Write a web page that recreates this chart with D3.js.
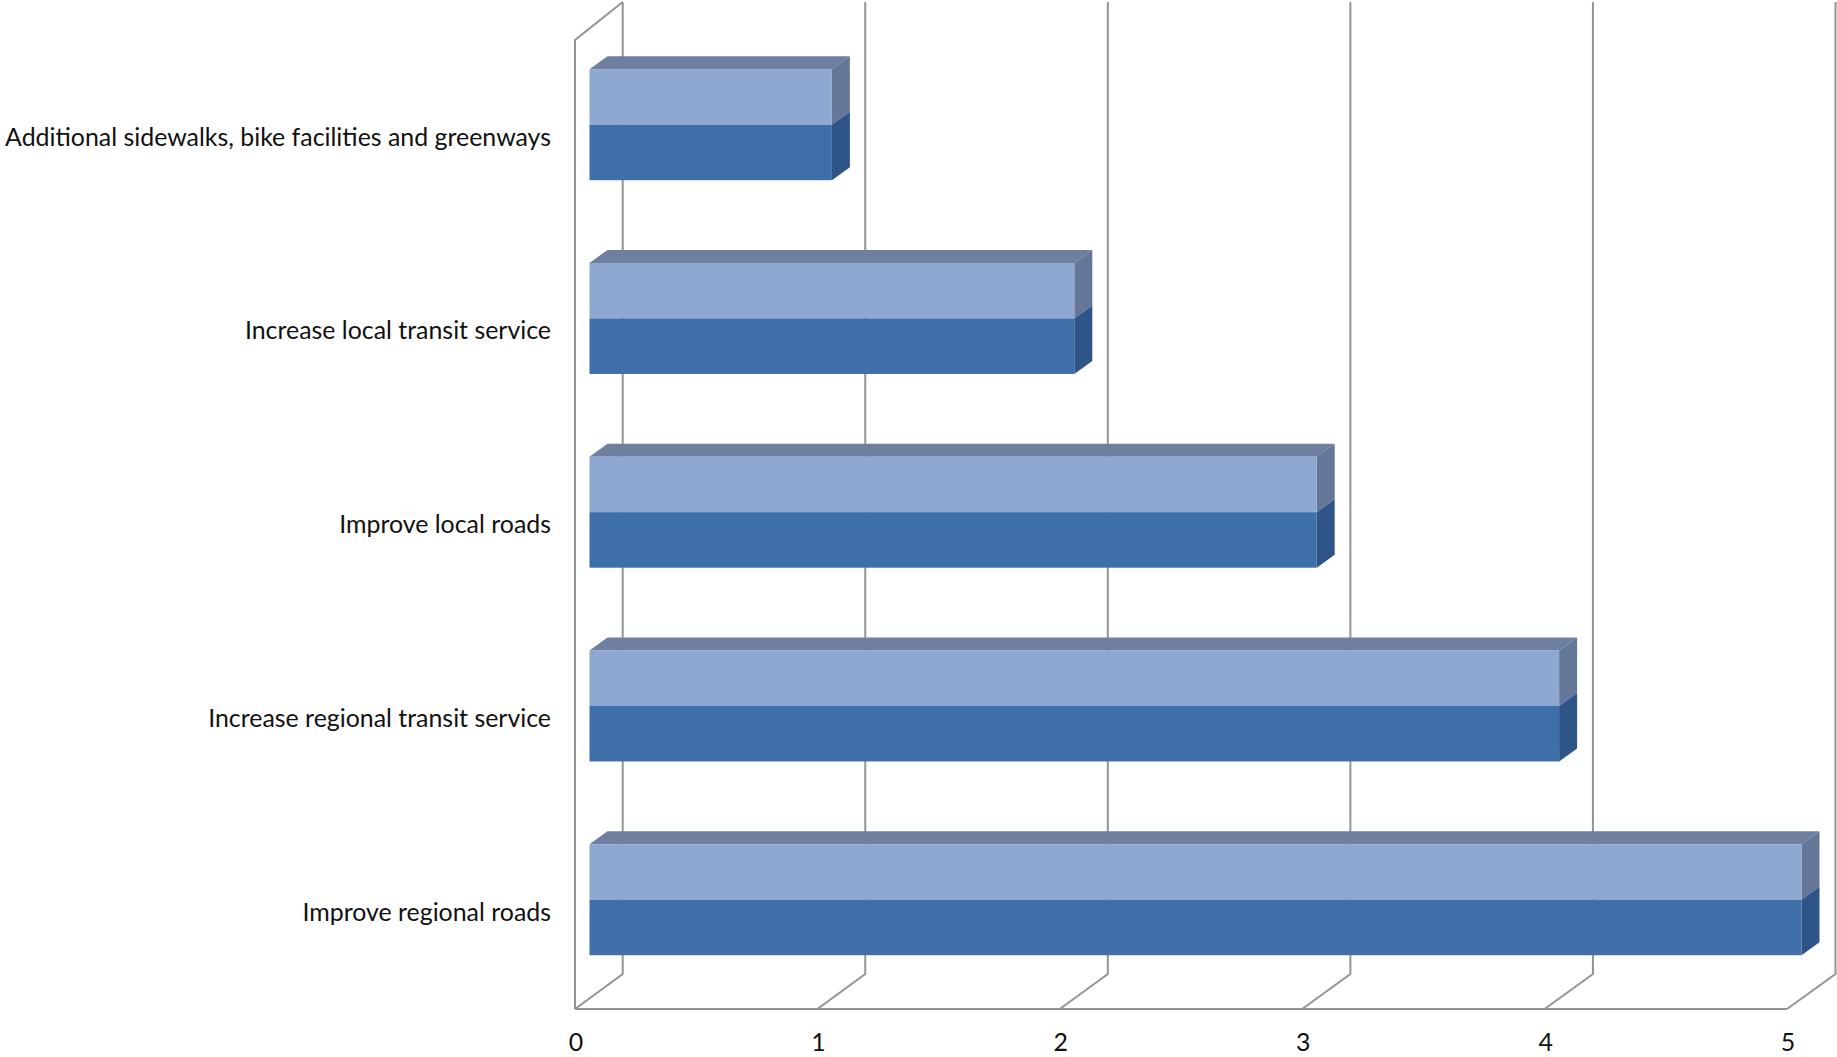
<!DOCTYPE html>
<html><head><meta charset="utf-8">
<script src="https://cdn.jsdelivr.net/npm/d3@7"></script>
<style>html,body{margin:0;padding:0;background:#fff;overflow:hidden}svg{display:block}text{font-family:Lato,"Open Sans",sans-serif;fill:#111}</style>
</head><body><svg id="c" width="1837" height="1057"></svg>
<script>
const categories = ["Additional sidewalks, bike facilities and greenways","Increase local transit service","Improve local roads","Increase regional transit service","Improve regional roads"];
const values = [1,2,3,4,5];
const xTicks = [0,1,2,3,4,5];
const colors = {grid:"#949494",topFace:"#6e7f9f",frontLight:"#8fa8d2",frontDark:"#3f6fa8",sideLight:"#647799",sideDark:"#2f5487"};

const svg = d3.select("#c");
const depthX = 18, depthY = 13;
const xFloor = d3.scaleLinear().domain([0,5]).range([575,1787]);
const xWall = d3.scaleLinear().domain([0,5]).range([622.7,1835.5]);
const xBar = d3.scaleLinear().domain([0,5]).range([589.5,1801.5]);
const p = 0.427;
const y = d3.scaleBand().domain(categories).range([27.8,996.6]).paddingInner(p).paddingOuter(p/2);

const wallTop = 2, wallBottom = 974, floorY = 1009, frontTop = 40;
const gridG = svg.append("g").attr("fill","none").attr("stroke",colors.grid).attr("stroke-width",2);
gridG.selectAll("path.g").data(xTicks).join("path").attr("class","g")
  .attr("d",d=>`M${xWall(d)},${wallTop}V${wallBottom}L${xFloor(d)},${floorY}`);
gridG.append("path").attr("d",`M${xFloor(0)},${floorY}V${frontTop}L${xWall(0)},${wallTop}`);
gridG.append("path").attr("d",`M${xFloor(0)},${floorY}H${xFloor(5)}`);

const poly = (pts)=>d3.line()(pts)+"Z";
const bars = svg.append("g").selectAll("g").data(categories).join("g");
bars.each(function(c,i){
  const g = d3.select(this);
  const x0 = xBar(0), x1 = xBar(values[i]);
  const t = y(c), h = y.bandwidth(), m = t + h*0.5, b = t + h;
  g.append("path").attr("fill",colors.topFace).attr("d",poly([[x0,t],[x0+depthX,t-depthY],[x1+depthX,t-depthY],[x1,t]]));
  g.append("path").attr("fill",colors.sideLight).attr("d",poly([[x1,t],[x1+depthX,t-depthY],[x1+depthX,m-depthY],[x1,m]]));
  g.append("path").attr("fill",colors.sideDark).attr("d",poly([[x1,m],[x1+depthX,m-depthY],[x1+depthX,b-depthY],[x1,b]]));
  g.append("rect").attr("x",x0).attr("y",t).attr("width",x1-x0).attr("height",m-t).attr("fill",colors.frontLight);
  g.append("rect").attr("x",x0).attr("y",m).attr("width",x1-x0).attr("height",b-m).attr("fill",colors.frontDark);
});

svg.append("g").selectAll("text").data(categories).join("text")
  .attr("x",551).attr("y",c=>y(c)+y.bandwidth()/2+21).attr("text-anchor","end").attr("font-size",24.9).text(c=>c);
svg.append("g").selectAll("text").data(xTicks).join("text")
  .attr("x",d=>xFloor(d)+1).attr("y",1050.5).attr("text-anchor","middle").attr("font-size",24.9).text(d=>d);
</script></body></html>
